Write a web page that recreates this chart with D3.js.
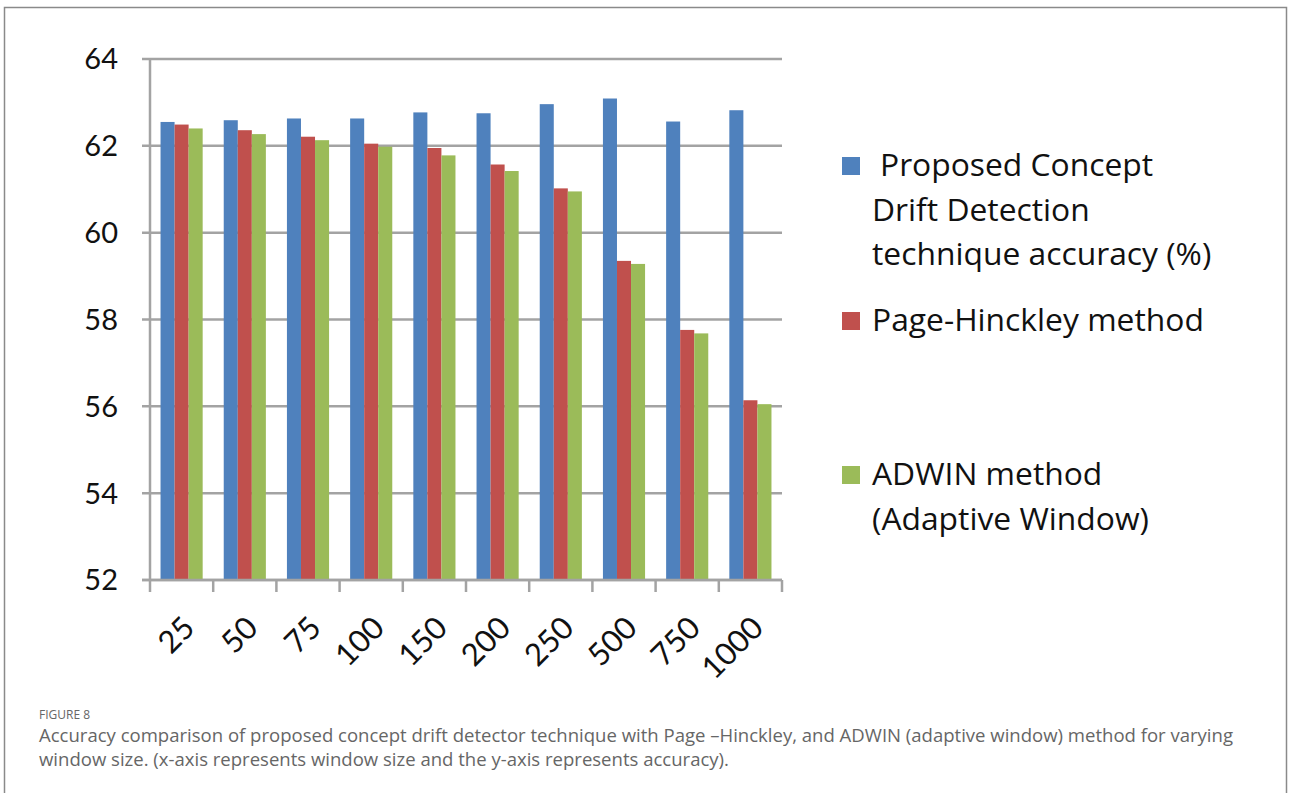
<!DOCTYPE html>
<html>
<head>
<meta charset="utf-8">
<script src="https://cdn.jsdelivr.net/npm/d3@7"></script>
<style>
  html, body { margin: 0; padding: 0; background: #fff; }
  svg { display: block; }
</style>
</head>
<body>
<svg id="fig" width="1290" height="793"></svg>
<script>
// Window sizes on the x-axis
const windowSizes = ["25", "50", "75", "100", "150", "200", "250", "500", "750", "1000"];

// Accuracy (%) for each method
const proposedAcc = [62.55, 62.59, 62.63, 62.63, 62.77, 62.75, 62.96, 63.09, 62.56, 62.82];
const pageHinkleyAcc = [62.49, 62.36, 62.21, 62.05, 61.95, 61.57, 61.02, 59.35, 57.76, 56.14];
const adwinAcc = [62.40, 62.27, 62.13, 61.98, 61.78, 61.42, 60.95, 59.28, 57.68, 56.05];

const seriesNames = [
  ["Proposed Concept", "Drift Detection", "technique accuracy (%)"],
  ["Page-Hinckley method"],
  ["ADWIN method", "(Adaptive Window)"]
];
const seriesColors = ["#4F81BD", "#C0504D", "#9BBB59"];
const seriesValues = [proposedAcc, pageHinkleyAcc, adwinAcc];

const yTicks = [52, 54, 56, 58, 60, 62, 64];

const captionTitle = "FIGURE 8";
const captionLines = [
  "Accuracy comparison of proposed concept drift detector technique with Page \u2013Hinckley, and ADWIN (adaptive window) method for varying",
  "window size. (x-axis represents window size and the y-axis represents accuracy)."
];

const svg = d3.select("#fig");

// Outer figure frame
svg.append("rect")
  .attr("x", 4.5).attr("y", 7.5)
  .attr("width", 1282).attr("height", 820)
  .attr("fill", "none").attr("stroke", "#8a8a8a").attr("stroke-width", 1.5);

const plot = { left: 150, right: 782, top: 59, bottom: 580 };
const gridColor = "#a3a3a3";
const chartFont = "Lato, 'Open Sans', sans-serif";
const legendFont = "'Open Sans', Lato, sans-serif";

const x = d3.scaleBand()
  .domain(windowSizes)
  .range([plot.left, plot.right])
  .padding(0);

const xs = d3.scaleBand()
  .domain(d3.range(seriesValues.length))
  .range([0, x.bandwidth()])
  .paddingInner(0)
  .paddingOuter(0.75);

const y = d3.scaleLinear()
  .domain([52, 64])
  .range([plot.bottom, plot.top]);

// Horizontal gridlines with short outer ticks
svg.append("g")
  .selectAll("line")
  .data(yTicks)
  .join("line")
  .attr("x1", plot.left - 8)
  .attr("x2", plot.right)
  .attr("y1", d => y(d))
  .attr("y2", d => y(d))
  .attr("stroke", gridColor)
  .attr("stroke-width", 2.5);

// Y-axis line
svg.append("line")
  .attr("x1", plot.left).attr("x2", plot.left)
  .attr("y1", plot.top).attr("y2", plot.bottom)
  .attr("stroke", gridColor).attr("stroke-width", 2.5);

// Bars
const groups = svg.append("g")
  .selectAll("g")
  .data(windowSizes)
  .join("g")
  .attr("transform", d => `translate(${x(d)},0)`);

groups.selectAll("rect")
  .data((d, i) => seriesValues.map((vals, s) => ({ s, v: vals[i] })))
  .join("rect")
  .attr("x", d => xs(d.s))
  .attr("width", xs.bandwidth())
  .attr("y", d => y(d.v))
  .attr("height", d => y(52) - y(d.v))
  .attr("fill", d => seriesColors[d.s]);

// X-axis line and tick marks between categories
svg.append("line")
  .attr("x1", plot.left - 8).attr("x2", plot.right)
  .attr("y1", plot.bottom).attr("y2", plot.bottom)
  .attr("stroke", gridColor).attr("stroke-width", 2.5);

const tickXs = windowSizes.map(d => x(d)).concat([x(windowSizes[windowSizes.length - 1]) + x.step()]);
svg.append("g")
  .selectAll("line")
  .data(tickXs)
  .join("line")
  .attr("x1", d => d).attr("x2", d => d)
  .attr("y1", plot.bottom).attr("y2", plot.bottom + 12)
  .attr("stroke", gridColor).attr("stroke-width", 2.5);

// Y tick labels
svg.append("g")
  .selectAll("text")
  .data(yTicks)
  .join("text")
  .attr("x", plot.left - 32)
  .attr("y", d => y(d))
  .attr("dy", "0.36em")
  .attr("text-anchor", "end")
  .attr("font-family", chartFont)
  .attr("font-size", 29)
  .attr("fill", "#111")
  .text(d => d);

// X tick labels, rotated
svg.append("g")
  .selectAll("text")
  .data(windowSizes)
  .join("text")
  .attr("transform", d => `translate(${x(d) + x.bandwidth() / 2 + 7},${plot.bottom + 42}) rotate(-45)`)
  .attr("text-anchor", "end")
  .attr("dy", "0.36em")
  .attr("font-family", chartFont)
  .attr("font-size", 31)
  .attr("fill", "#111")
  .text(d => d);

// Legend
const legendTops = [176, 331, 485];
const legend = svg.append("g");
seriesNames.forEach((lines, s) => {
  const base = legendTops[s];
  legend.append("rect")
    .attr("x", 842).attr("y", base - 19)
    .attr("width", 18).attr("height", 18)
    .attr("fill", seriesColors[s]);
  lines.forEach((t, k) => {
    legend.append("text")
      .attr("x", s === 0 && k === 0 ? 880 : 872)
      .attr("y", base + k * 44.5)
      .attr("font-family", legendFont)
      .attr("font-size", 31.8)
      .attr("fill", "#111")
      .text(t);
  });
});

// Caption
svg.append("text")
  .attr("x", 39).attr("y", 719)
  .attr("font-family", "'Open Sans', sans-serif")
  .attr("font-size", 12)
  .attr("fill", "#666")
  .text(captionTitle);

svg.append("g")
  .selectAll("text")
  .data(captionLines)
  .join("text")
  .attr("x", 39)
  .attr("y", (d, i) => 742 + i * 24)
  .attr("font-family", "'Open Sans', sans-serif")
  .attr("font-size", 18.55)
  .attr("fill", "#666")
  .text(d => d);
</script>
</body>
</html>
